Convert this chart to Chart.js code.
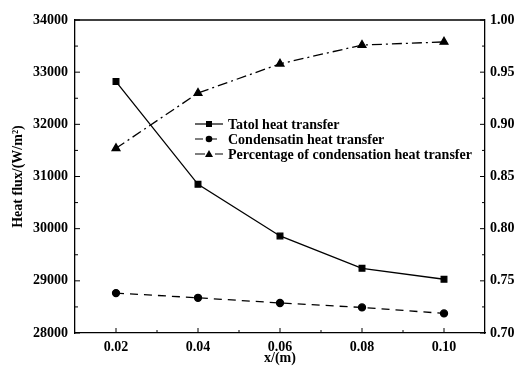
<!DOCTYPE html>
<html>
<head>
<meta charset="utf-8">
<script src="https://cdn.jsdelivr.net/npm/chart.js@4.4.1/dist/chart.umd.min.js"></script>
<style>
  html, body { margin: 0; padding: 0; background: #fff; }
  #wrap { width: 520px; height: 367px; }
</style>
</head>
<body>
<div id="wrap"><canvas id="myChart" width="520" height="367"></canvas></div>
<script>
// data
const xValues = [0.02, 0.04, 0.06, 0.08, 0.10];
const totalHeat = [32820, 30850, 29860, 29240, 29030];
const condHeat = [28765, 28675, 28575, 28490, 28375];
const condPercent = [0.877, 0.930, 0.958, 0.976, 0.979];

const xTicks = [0.02, 0.04, 0.06, 0.08, 0.10];
const xMinor = [0.03, 0.05, 0.07, 0.09];
const leftTicks = [28000, 29000, 30000, 31000, 32000, 33000, 34000];
const leftMinor = [28500, 29500, 30500, 31500, 32500, 33500];
const rightTicks = [0.70, 0.75, 0.80, 0.85, 0.90, 0.95, 1.00];
const rightMinor = [0.725, 0.775, 0.825, 0.875, 0.925, 0.975];

const seriesNames = ['Tatol heat transfer', 'Condensatin heat transfer', 'Percentage of condensation heat transfer'];

const FONT = 'Liberation Serif';

function pts(ys) {
  return xValues.map((x, i) => ({ x: x, y: ys[i] }));
}

// inward ticks, top frame line, legend inside the plot
const framePlugin = {
  id: 'frame',
  afterDraw(chart) {
    const ctx = chart.ctx;
    const a = chart.chartArea;
    const sx = chart.scales.x, sl = chart.scales.y, sr = chart.scales.y1;
    ctx.save();
    ctx.strokeStyle = '#000';
    ctx.lineWidth = 1.3;
    ctx.beginPath();
    ctx.moveTo(a.left, a.top);
    ctx.lineTo(a.right, a.top);
    ctx.stroke();

    ctx.lineWidth = 1;
    ctx.beginPath();
    xTicks.forEach(v => { const p = sx.getPixelForValue(v); ctx.moveTo(p, a.bottom); ctx.lineTo(p, a.bottom - 5); });
    xMinor.forEach(v => { const p = sx.getPixelForValue(v); ctx.moveTo(p, a.bottom); ctx.lineTo(p, a.bottom - 3); });
    leftTicks.forEach(v => { const p = sl.getPixelForValue(v); ctx.moveTo(a.left, p); ctx.lineTo(a.left + 5, p); });
    leftMinor.forEach(v => { const p = sl.getPixelForValue(v); ctx.moveTo(a.left, p); ctx.lineTo(a.left + 3, p); });
    rightTicks.forEach(v => { const p = sr.getPixelForValue(v); ctx.moveTo(a.right, p); ctx.lineTo(a.right - 5, p); });
    rightMinor.forEach(v => { const p = sr.getPixelForValue(v); ctx.moveTo(a.right, p); ctx.lineTo(a.right - 3, p); });
    ctx.stroke();

    // legend
    const lx = 195, lw = 28, rowY = [124, 139, 154];
    ctx.font = 'bold 14px "' + FONT + '"';
    ctx.textBaseline = 'middle';
    ctx.fillStyle = '#000';
    chart.data.datasets.forEach((ds, i) => {
      const y = rowY[i];
      ctx.lineWidth = 1.2;
      ctx.setLineDash(ds.borderDash || []);
      ctx.beginPath();
      ctx.moveTo(lx, y);
      ctx.lineTo(lx + lw, y);
      ctx.stroke();
      ctx.setLineDash([]);
      const cx = lx + lw / 2;
      ctx.beginPath();
      if (ds.pointStyle === 'rect') {
        ctx.rect(cx - 3, y - 3, 6, 6);
      } else if (ds.pointStyle === 'circle') {
        ctx.arc(cx, y, 3.3, 0, Math.PI * 2);
      } else {
        ctx.moveTo(cx, y - 4);
        ctx.lineTo(cx + 4, y + 3);
        ctx.lineTo(cx - 4, y + 3);
        ctx.closePath();
      }
      ctx.fill();
      ctx.fillText(ds.label, lx + lw + 5, y + 1);
    });
    ctx.restore();
  }
};

const canvas = document.getElementById('myChart');
const ctx = canvas.getContext('2d');

new Chart(ctx, {
  type: 'line',
  data: {
    datasets: [{
      label: seriesNames[0],
      data: pts(totalHeat),
      yAxisID: 'y',
      borderColor: '#000',
      backgroundColor: '#000',
      borderWidth: 1.3,
      pointStyle: 'rect',
      pointRadius: 4,
      borderDash: []
    }, {
      label: seriesNames[1],
      data: pts(condHeat),
      yAxisID: 'y',
      borderColor: '#000',
      backgroundColor: '#000',
      borderWidth: 1.3,
      pointStyle: 'circle',
      pointRadius: 3.5,
      borderDash: [8, 6]
    }, {
      label: seriesNames[2],
      data: pts(condPercent),
      yAxisID: 'y1',
      borderColor: '#000',
      backgroundColor: '#000',
      borderWidth: 1.3,
      pointStyle: 'triangle',
      pointRadius: 4.5,
      borderDash: [10, 4, 2, 4]
    }]
  },
  options: {
    responsive: false,
    animation: false,
    layout: { padding: { top: 20, left: 0, right: 0, bottom: 0 } },
    plugins: {
      legend: { display: false },
      tooltip: { enabled: false }
    },
    scales: {
      x: {
        type: 'linear',
        min: 0.01,
        max: 0.11,
        afterBuildTicks: s => { s.ticks = xTicks.map(v => ({ value: v })); },
        afterFit: s => { s.height = 34; },
        grid: { display: false, drawTicks: false },
        border: { display: true, color: '#000', width: 1.3 },
        ticks: {
          padding: 6,
          color: '#000',
          font: { family: FONT, size: 14, weight: 'bold' },
          callback: v => v.toFixed(2)
        },
        title: {
          display: true,
          text: 'x/(m)',
          color: '#000',
          padding: { top: 0, bottom: 0 },
          font: { family: FONT, size: 14, weight: 'bold' }
        }
      },
      y: {
        position: 'left',
        min: 28000,
        max: 34000,
        afterBuildTicks: s => { s.ticks = leftTicks.map(v => ({ value: v })); },
        afterFit: s => { s.width = 75; },
        grid: { display: false, drawTicks: false },
        border: { display: true, color: '#000', width: 1.3 },
        ticks: {
          padding: 7,
          color: '#000',
          font: { family: FONT, size: 14, weight: 'bold' },
          callback: v => String(v)
        },
        title: {
          display: true,
          text: 'Heat flux/(W/m²)',
          color: '#000',
          padding: { top: 10, bottom: 0 },
          font: { family: FONT, size: 14, weight: 'bold' }
        }
      },
      y1: {
        position: 'right',
        min: 0.70,
        max: 1.00,
        afterBuildTicks: s => { s.ticks = rightTicks.map(v => ({ value: v })); },
        afterFit: s => { s.width = 35; },
        grid: { display: false, drawTicks: false },
        border: { display: true, color: '#000', width: 1.3 },
        ticks: {
          padding: 5,
          color: '#000',
          font: { family: FONT, size: 14, weight: 'bold' },
          callback: v => v.toFixed(2)
        }
      }
    }
  },
  plugins: [framePlugin]
});
</script>
</body>
</html>
